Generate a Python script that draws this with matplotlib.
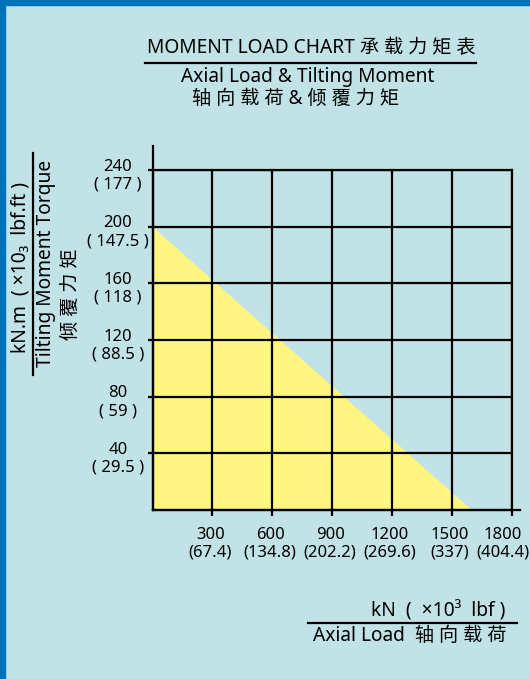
import numpy as np
import matplotlib.pyplot as plt
from matplotlib.patches import Rectangle
from matplotlib.lines import Line2D
from matplotlib.transforms import ScaledTranslation

plt.rcParams['font.family'] = ['Noto Sans', 'Noto Sans CJK SC', 'DejaVu Sans']

# chart data
load_kn = [0, 1600]          # axial load limit line (kN)
moment_knm = [200, 0]        # tilting moment limit (kN.m)
x_ticks = [300, 600, 900, 1200, 1500, 1800]
x_lbf = ['67.4', '134.8', '202.2', '269.6', '337', '404.4']
y_ticks = [40, 80, 120, 160, 200, 240]
y_lbfft = ['29.5', '59', '88.5', '118', '147.5', '177']

bg = '#C1E2E7'
blue = '#0070B9'
yellow = '#FFF580'

W, H = 530, 679
fig = plt.figure(figsize=(W / 100, H / 100), dpi=100, facecolor=bg)

# blue frame on left and top
fig.patches.append(Rectangle((0, 0), 5 / W, 1, transform=fig.transFigure, color=blue, zorder=0))
fig.patches.append(Rectangle((0, 1 - 5 / H), 1, 5 / H, transform=fig.transFigure, color=blue, zorder=0))

x0, x1 = 152.5, 511.7
y0, y1 = 510, 170
ax = fig.add_axes([x0 / W, 1 - y0 / H, (x1 - x0) / W, (y0 - y1) / H])
ax.set_facecolor(bg)
ax.set_xlim(0, 1800)
ax.set_ylim(0, 240)

ax.fill_between(load_kn, moment_knm, 0, color=yellow, lw=0, zorder=1)

lw = 1.6
ax.set_xticks(x_ticks, [f'{v}\n({l})' for v, l in zip(x_ticks, x_lbf)])
ax.set_yticks(y_ticks, [f'{v}\n( {l} )' for v, l in zip(y_ticks, y_lbfft)])
ax.grid(True, color='black', lw=lw, zorder=2)
ax.set_axisbelow(False)
for s in ax.spines.values():
    s.set_linewidth(lw)
    s.set_zorder(3)
ax.tick_params(axis='x', length=4.5, width=lw, pad=8, labelsize=12)
ax.tick_params(axis='y', length=3.5, width=lw, pad=21.5, labelsize=12)

offset = ScaledTranslation(0, -4 / 72, fig.dpi_scale_trans)
for lab in ax.get_yticklabels():
    lab.set_ha('center')
    lab.set_va('center')
    lab.set_linespacing(1.15)
    lab.set_transform(lab.get_transform() + offset)
xlabs = ax.get_xticklabels()
for i, lab in enumerate(xlabs):
    lab.set_linespacing(1.1)
    shift = -9 if i == len(xlabs) - 1 else -2
    lab.set_transform(lab.get_transform() + ScaledTranslation(shift / 100, 0, fig.dpi_scale_trans))

# extended axis lines
ax.plot([0, 0], [0, 257], color='black', lw=lw, clip_on=False, zorder=3)
ax.plot([0, 1842], [0, 0], color='black', lw=lw, clip_on=False, zorder=3)

fs = 13.8
# titles
fig.text(311 / W, 1 - 48 / H, 'MOMENT LOAD CHART 承 载 力 矩 表', ha='center', va='center', fontsize=fs)
fig.add_artist(Line2D([145 / W, 476 / W], [1 - 63 / H] * 2, color='black', lw=1.6))
fig.text(308 / W, 1 - 77 / H, 'Axial Load & Tilting Moment', ha='center', va='center', fontsize=fs)
fig.text(295 / W, 1 - 99 / H, '轴 向 载 荷 & 倾 覆 力 矩', ha='center', va='center', fontsize=fs)

# y axis label
fig.add_artist(Line2D([33 / W] * 2, [1 - 153 / H, 1 - 375 / H], color='black', lw=1.6))
fig.text(21 / W, 1 - 268 / H, 'kN.m  ( ×10₃  lbf.ft )', rotation=90, ha='center', va='center', fontsize=fs)
fig.text(46 / W, 1 - 263 / H, 'Tilting Moment Torque', rotation=90, ha='center', va='center', fontsize=fs)
fig.text(71 / W, 1 - 294 / H, '倾 覆 力 矩', rotation=90, ha='center', va='center', fontsize=fs)

# x axis label
fig.text(505 / W, 1 - 611 / H, 'kN  (  ×10³  lbf )', ha='right', va='center', fontsize=fs)
fig.add_artist(Line2D([308 / W, 517 / W], [1 - 623 / H] * 2, color='black', lw=1.6))
fig.text(313 / W, 1 - 636 / H, 'Axial Load  轴 向 载 荷', ha='left', va='center', fontsize=fs)

fig.savefig('out.png', dpi=100, facecolor=bg)
